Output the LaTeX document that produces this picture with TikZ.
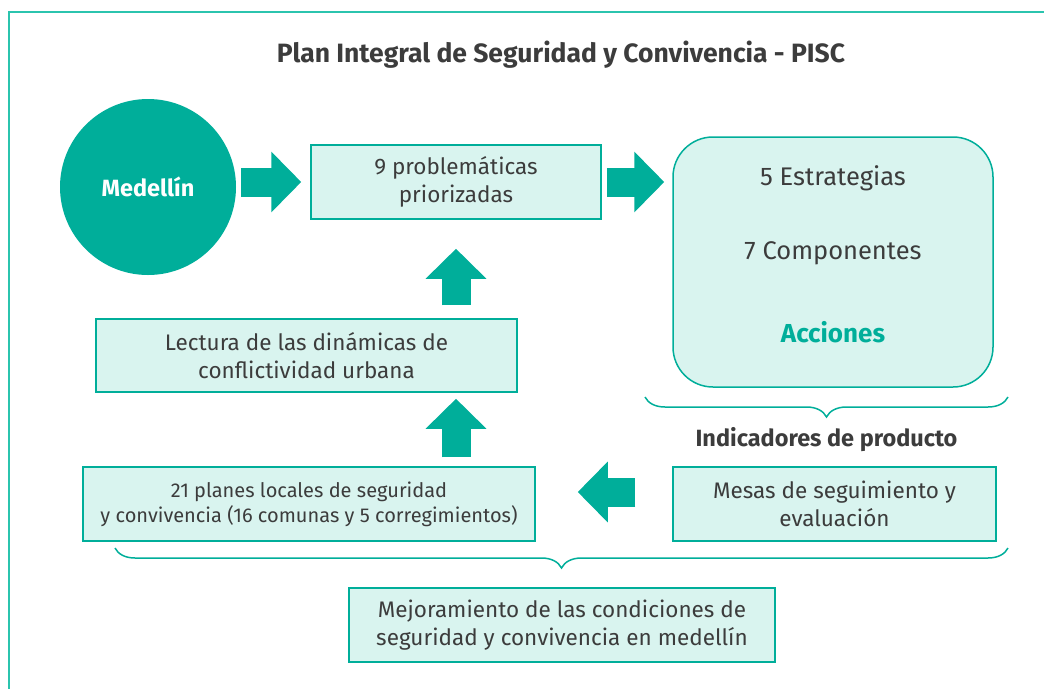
\documentclass[tikz,border=0pt]{standalone}
\usepackage{fontspec}
\setmainfont{Fira Sans}
\usetikzlibrary{arrows.meta, positioning, calc, decorations.pathreplacing}
\definecolor{pscteal}{RGB}{0, 174, 154}
\definecolor{pscmint}{RGB}{217, 244, 239}
\definecolor{pscframe}{RGB}{43, 196, 174}
\definecolor{psctext}{RGB}{60, 60, 60}

\begin{document}
\begin{tikzpicture}[x=1pt, y=-1pt,
    font=\fontsize{22.5}{28}\selectfont, text=psctext,
    box/.style={draw=pscteal, fill=pscmint, line width=1.5pt,
                inner sep=0pt, align=center},
    blockarrow/.style={pscteal, line width=29pt,
                       -{Triangle[length=30pt, width=59pt]}},
    bracebar/.style={draw=pscteal, line width=1.5pt, decorate,
                     decoration={brace, mirror, amplitude=20pt}},
  ]
  \useasboundingbox (0,0) rectangle (1044,689);
  \draw[pscframe, line width=2pt] (1044,12) -- (9,12) -- (9,689);

  \node[font=\fontsize{26.5}{30}\selectfont\bfseries] (title) at (561,55)
    {Plan Integral de Seguridad y Convivencia - PISC};

  \node[circle, fill=pscteal, minimum size=176pt, inner sep=0pt, text=white,
        font=\fontsize{23.5}{26}\selectfont\bfseries] (medellin) at (148,187) {Medellín};
  \node[box, minimum width=290pt, minimum height=74pt] (prob) at (456,182)
    {9 problemáticas\\priorizadas};
  \node[box, rounded corners=40pt, minimum width=320pt, minimum height=250pt]
    (acts) at (833,262) {};
  \node[font=\fontsize{25.5}{28}\selectfont] (estr) at (833,178) {5 Estrategias};
  \node[font=\fontsize{25.5}{28}\selectfont] (comp) at (833,253) {7 Componentes};
  \node[text=pscteal, font=\fontsize{26}{28}\selectfont\bfseries] (acc) at (833,332) {Acciones};

  \node[box, minimum width=421pt, minimum height=73pt] (lect) at (306.5,355.5)
    {Lectura de las dinámicas de\\conflictividad urbana};
  \node[box, minimum width=452pt, minimum height=74pt,
        font=\fontsize{20}{25}\selectfont] (planes) at (309,504)
    {21 planes locales de seguridad\\y convivencia (16 comunas y 5 corregimientos)};
  \node[box, minimum width=323pt, minimum height=74pt] (mesas) at (834.5,504)
    {Mesas de seguimiento y\\evaluación};
  \node[box, minimum width=426pt, minimum height=74pt] (mejora) at (562,625)
    {Mejoramiento de las condiciones de\\seguridad y convivencia en medellín};

  % flow arrows
  \draw[blockarrow, shorten <=5pt, shorten >=9pt] (medellin.east |- prob.west) -- (prob.west);
  \draw[blockarrow, shorten <=5pt, shorten >=8pt] (prob.east) -- (prob.east -| acts.west);
  \draw[blockarrow, shorten <=13pt, shorten >=29pt] (prob.south |- lect.north) -- (prob.south);
  \draw[blockarrow, shorten <=9pt, shorten >=6pt] (prob.south |- planes.north) -- (prob.south |- lect.south);
  \coordinate (mesasin) at ([yshift=12pt]mesas.west);
  \draw[blockarrow, shorten <=37pt, shorten >=42pt] (mesasin) -- (mesasin -| planes.east);

  % braces
  \coordinate (brA1) at (645,397);
  \coordinate (brA2) at (1008,397);
  \draw[bracebar] (brA1) -- (brA2);
  \node[font=\fontsize{23.5}{26}\selectfont\bfseries] (indic)
    at ($(brA1)!0.5!(brA2)+(0,43)$) {Indicadores de producto};
  \coordinate (brB1) at (115,548);
  \coordinate (brB2) at (1008,548);
  \draw[bracebar] (brB1) -- (brB2);
\end{tikzpicture}
\end{document}
